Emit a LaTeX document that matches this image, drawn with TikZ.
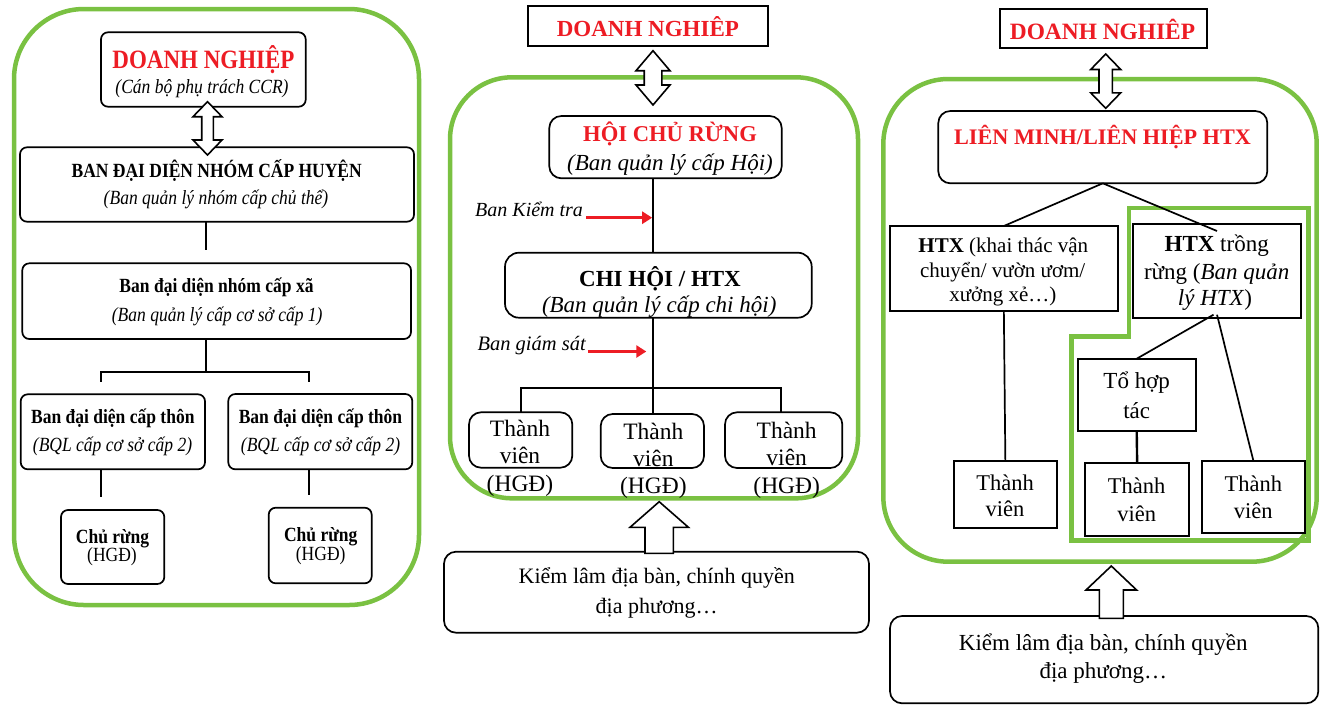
\documentclass[tikz,border=0pt]{standalone}
\usepackage{fontspec}
\setmainfont{Liberation Serif}
\usepackage{graphicx}
\usetikzlibrary{arrows.meta}
\definecolor{grn}{RGB}{122,193,66}
\definecolor{rd}{RGB}{237,28,36}
\newcommand{\fsz}[1]{\fontsize{#1}{#1}\selectfont}
\newcommand{\vs}[1]{\scalebox{1}[1.15]{#1}}
\newcommand{\mkbox}[6]{\node[#6, minimum width={(#4-#2)*1pt}, minimum height={(#5-#3)*1pt}] (#1) at ({(#2+#4)/2},{(#3+#5)/2}) {};}
\newcommand{\dblarr}[6]{\draw[blk] (#1,#2) -- ({#1+#4},{#2+#6}) -- ({#1+#5},{#2+#6}) -- ({#1+#5},{#3-#6}) -- ({#1+#4},{#3-#6}) -- (#1,#3) -- ({#1-#4},{#3-#6}) -- ({#1-#5},{#3-#6}) -- ({#1-#5},{#2+#6}) -- ({#1-#4},{#2+#6}) -- cycle;}
\newcommand{\uparr}[6]{\draw[blk] (#1,#2) -- ({#1+#5},#3) -- ({#1+#6},#3) -- ({#1+#6},#4) -- ({#1-#6},#4) -- ({#1-#6},#3) -- ({#1-#5},#3) -- cycle;}
\tikzset{
 rbox/.style={draw, line width=1.7pt, rounded corners=10pt, fill=white, inner sep=0pt, outer sep=0pt},
 sbox/.style={draw, line width=1.7pt, fill=white, inner sep=0pt, outer sep=0pt},
 gframe/.style={draw=grn, line width=4.5pt},
 txt/.style={inner sep=0pt, anchor=base},
 conn/.style={line width=1.7pt},
 redarr/.style={draw=rd, line width=2.6pt, -{Triangle[length=10pt,width=12pt]}},
 blk/.style={draw, line width=1.6pt, fill=white, line join=miter},
}
\begin{document}
\begin{tikzpicture}[x=1pt,y=-1pt]
\fill[white] (0,0) rectangle (1324,705);
\useasboundingbox (0,0) rectangle (1324,705);

% ===== LEFT PANEL =====
\draw[gframe, rounded corners=70pt] (14,9) rectangle (419,605);
\mkbox{ldn}{101}{32.3}{305.7}{106.7}{rbox, rounded corners=7pt}
\mkbox{lban}{20}{147.3}{414}{221.7}{rbox, rounded corners=7pt}
\mkbox{lxa}{22.3}{263.3}{411}{339}{rbox, rounded corners=7pt}
\mkbox{lt1}{20.7}{394.3}{205}{469.3}{rbox, rounded corners=7pt}
\mkbox{lt2}{228.3}{394}{412.3}{469.3}{rbox, rounded corners=7pt}
\mkbox{lc1}{61}{510}{164.3}{584}{rbox, rounded corners=7pt}
\mkbox{lc2}{268.7}{507.7}{371.7}{583.3}{rbox, rounded corners=7pt}

\coordinate (la) at (205.7,250);
\draw[conn] (la |- lban.south) -- (la);
\coordinate (lj) at (205.7,371.7);
\draw[conn] (lj |- lxa.south) -- (lj);
\coordinate (lbl) at (100.7,381.7);
\coordinate (lbr) at (309.3,381.7);
\draw[conn] (lbl) -- (lbl |- lj) -- (lbr |- lj) -- (lbr);
\coordinate (lcl) at (101,496.7);
\draw[conn] (lcl |- lt1.south) -- (lcl);
\coordinate (lcr) at (309,495);
\draw[conn] (lcr |- lt2.south) -- (lcr);
\dblarr{207.5}{101.7}{155}{14.5}{5.8}{15}

\node[txt, font=\fsz{23}\bfseries, text=rd] (ldnt) at (203.5,68.3) {\vs{DOANH NGHIỆP}};
\node[txt, font=\fsz{17.5}\itshape] (ldns) at (202,93) {\vs{(Cán bộ phụ trách CCR)}};
\node[txt, font=\fsz{17.5}\bfseries] (lbant) at (216.7,177) {\vs{BAN ĐẠI DIỆN NHÓM CẤP HUYỆN}};
\node[txt, font=\fsz{17.5}\itshape] (lbans) at (216,204) {\vs{(Ban quản lý nhóm cấp chủ thể)}};
\node[txt, font=\fsz{17.5}\bfseries] (lxat) at (216.5,292.7) {\vs{Ban đại diện nhóm cấp xã}};
\node[txt, font=\fsz{17.5}\itshape] (lxas) at (217.2,321.7) {\vs{(Ban quản lý cấp cơ sở cấp 1)}};
\node[txt, font=\fsz{17.5}\bfseries] (lt1t) at (112.8,423.3) {\vs{Ban đại diện cấp thôn}};
\node[txt, font=\fsz{17.5}\itshape] (lt1s) at (112.5,451.7) {\vs{(BQL cấp cơ sở cấp 2)}};
\node[txt, font=\fsz{17.5}\bfseries] (lt2t) at (320.5,423.3) {\vs{Ban đại diện cấp thôn}};
\node[txt, font=\fsz{17.5}\itshape] (lt2s) at (320.5,451.7) {\vs{(BQL cấp cơ sở cấp 2)}};
\node[txt, font=\fsz{17.5}\bfseries] (lc1t) at (112.5,543.3) {\vs{Chủ rừng}};
\node[txt, font=\fsz{17.5}] (lc1s) at (112,561.7) {\vs{(HGĐ)}};
\node[txt, font=\fsz{17.5}\bfseries] (lc2t) at (320.7,541.7) {\vs{Chủ rừng}};
\node[txt, font=\fsz{17.5}] (lc2s) at (320.7,560.7) {\vs{(HGĐ)}};

% ===== MIDDLE PANEL =====
\draw[gframe, rounded corners=62pt] (450,77.3) rectangle (858,498.3);
\mkbox{mdn}{528.3}{5.7}{768.3}{45.7}{sbox}
\mkbox{mhoi}{549.3}{116}{781.7}{178.3}{rbox, rounded corners=12pt}
\mkbox{mchi}{505}{252.7}{811.7}{317.7}{rbox, rounded corners=14pt}
\mkbox{mtv1}{469}{412.3}{572.3}{467.7}{rbox, rounded corners=12pt}
\mkbox{mtv2}{600.7}{414}{704}{468}{rbox, rounded corners=12pt}
\mkbox{mtv3}{725}{412.3}{842.3}{468}{rbox, rounded corners=12pt}
\mkbox{mkl}{444}{551.7}{869}{632.7}{rbox, rounded corners=12pt}

\coordinate (mv) at (652.7,0);
\draw[conn] (mv |- mhoi.south) -- (mv |- mchi.north);
\coordinate (mj) at (652.7,387.7);
\coordinate (mr) at (780.7,387.7);
\draw[conn] (mv |- mchi.south) -- (mj);
\draw[conn] (mtv1.north) -- (mtv1.north |- mj) -- (mr) -- (mr |- mtv3.north);
\draw[conn] (mj) -- (mj |- mtv2.north);
\dblarr{653}{50.7}{105}{17}{8.8}{20}
\uparr{659.2}{501.7}{527.3}{553.3}{29.2}{14.2}

\node[txt, font=\fsz{23}\bfseries, text=rd] (mdnt) at (647.9,36) {DOANH NGHIÊP};
\node[txt, font=\fsz{22.6}\bfseries, text=rd] (mhoit) at (670,141.7) {HỘI CHỦ RỪNG};
\node[txt, font=\fsz{23}\itshape] (mhois) at (670,170) {(Ban quản lý cấp Hội)};
\node[txt, font=\fsz{20}\itshape, anchor=base west] (mkt) at (475,216.7) {Ban Kiểm tra};
\node[txt, font=\fsz{23}\bfseries] (mchit) at (660,286.7) {CHI HỘI / HTX};
\node[txt, font=\fsz{23}\itshape] (mchis) at (659.2,312.7) {(Ban quản lý cấp chi hội)};
\node[txt, font=\fsz{20.5}\itshape, anchor=base west] (mgs) at (477.3,350) {Ban giám sát};
\draw[redarr] ([xshift=3pt,yshift=-1pt]mkt.base east) -- ++(66,0);
\draw[redarr] ([xshift=2pt,yshift=-1.5pt]mgs.base east) -- ++(58.4,0);
\node[txt, font=\fsz{23.5}] (mtv1a) at (520,436.7) {Thành};
\node[txt, font=\fsz{23.5}] (mtv1b) at (520,463.3) {viên};
\node[txt, font=\fsz{23.5}] (mtv1c) at (520,491.7) {(HGĐ)};
\node[txt, font=\fsz{23.5}] (mtv2a) at (653.3,439.3) {Thành};
\node[txt, font=\fsz{23.5}] (mtv2b) at (653.3,466.7) {viên};
\node[txt, font=\fsz{23.5}] (mtv2c) at (653.3,493.3) {(HGĐ)};
\node[txt, font=\fsz{23.5}] (mtv3a) at (786.7,438.3) {Thành};
\node[txt, font=\fsz{23.5}] (mtv3b) at (786.7,465) {viên};
\node[txt, font=\fsz{23.5}] (mtv3c) at (786.7,493.3) {(HGĐ)};
\node[txt, font=\fsz{22}] (mkla) at (656.7,583.3) {Kiểm lâm địa bàn, chính quyền};
\node[txt, font=\fsz{22}] (mklb) at (656.7,613.3) {địa phương…};

% ===== RIGHT PANEL =====
\draw[gframe, rounded corners=65pt] (883.3,79) rectangle (1316.7,561.7);
\draw[gframe, line join=miter] (1129,208) -- (1308.3,208) -- (1308.3,540.7) -- (1071.7,540.7) -- (1071.7,336.7) -- (1129,336.7) -- cycle;
\mkbox{rdn}{1000}{9}{1206.7}{48.3}{sbox}
\mkbox{rlm}{938.3}{111}{1267.3}{183.3}{rbox, rounded corners=12pt}
\mkbox{rha}{890}{226}{1117.7}{311}{sbox}
\mkbox{rhb}{1133.3}{224}{1300.7}{317.7}{sbox}
\mkbox{rth}{1077.7}{358.7}{1195.7}{431}{sbox}
\mkbox{rtvl}{954}{460.7}{1056.7}{528.3}{sbox}
\mkbox{rtvm}{1085}{463.3}{1189.3}{535.7}{sbox}
\mkbox{rtvr}{1201.7}{460.7}{1305}{532.7}{sbox}
\mkbox{rkl}{890}{616}{1318.3}{703.3}{rbox, rounded corners=12pt}

\draw[conn] (rlm.south) -- (rha.north);
\draw[conn] (rlm.south) -- ([yshift=-7pt]rhb.north);
\draw[conn] ([xshift=-3.5pt,yshift=3pt]rhb.south) -- (rth.north);
\draw[conn] ([yshift=3pt]rhb.south) -- (rtvr.north);
\draw[line width=2.4pt] (rth.south) -- (rtvm.north);
\draw[conn] (rha.south) -- (rtvl.north);
\dblarr{1105.7}{54}{108.3}{15}{6.7}{15.5}
\uparr{1111.3}{566}{590}{618.3}{25.3}{12}

\node[txt, font=\fsz{23.4}\bfseries, text=rd] (rdnt) at (1102.5,39.3) {DOANH NGHIÊP};
\node[txt, font=\fsz{22.2}\bfseries, text=rd] (rlmt) at (1102.5,144) {LIÊN MINH/LIÊN HIỆP HTX};
\node[txt, font=\fsz{21}] (rha1) at (1003.3,252.7) {\textbf{HTX} (khai thác vận};
\node[txt, font=\fsz{21}] (rha2) at (1002.7,277.3) {chuyển/ vườn ươm/};
\node[txt, font=\fsz{21}] (rha3) at (1002.8,301.7) {xưởng xẻ…)};
\node[txt, font=\fsz{23}] (rhb1) at (1216.7,251.7) {\textbf{HTX} trồng};
\node[txt, font=\fsz{23}] (rhb2) at (1216.7,279.3) {rừng (\textit{Ban quản}};
\node[txt, font=\fsz{23}] (rhb3) at (1215,305) {\textit{lý HTX})};
\node[txt, font=\fsz{23}] (rth1) at (1136.7,388.3) {Tổ hợp};
\node[txt, font=\fsz{23}] (rth2) at (1136.7,418.3) {tác};
\node[txt, font=\fsz{22.5}] (rtvl1) at (1005,490) {Thành};
\node[txt, font=\fsz{22.5}] (rtvl2) at (1005,516) {viên};
\node[txt, font=\fsz{22.5}] (rtvm1) at (1136.7,493.3) {Thành};
\node[txt, font=\fsz{22.5}] (rtvm2) at (1136.7,521.7) {viên};
\node[txt, font=\fsz{22.5}] (rtvr1) at (1253.3,491.7) {Thành};
\node[txt, font=\fsz{22.5}] (rtvr2) at (1253.3,518.3) {viên};
\node[txt, font=\fsz{23}] (rkla) at (1103.3,650) {Kiểm lâm địa bàn, chính quyền};
\node[txt, font=\fsz{23}] (rklb) at (1103.3,678.3) {địa phương…};
\end{tikzpicture}
\end{document}
